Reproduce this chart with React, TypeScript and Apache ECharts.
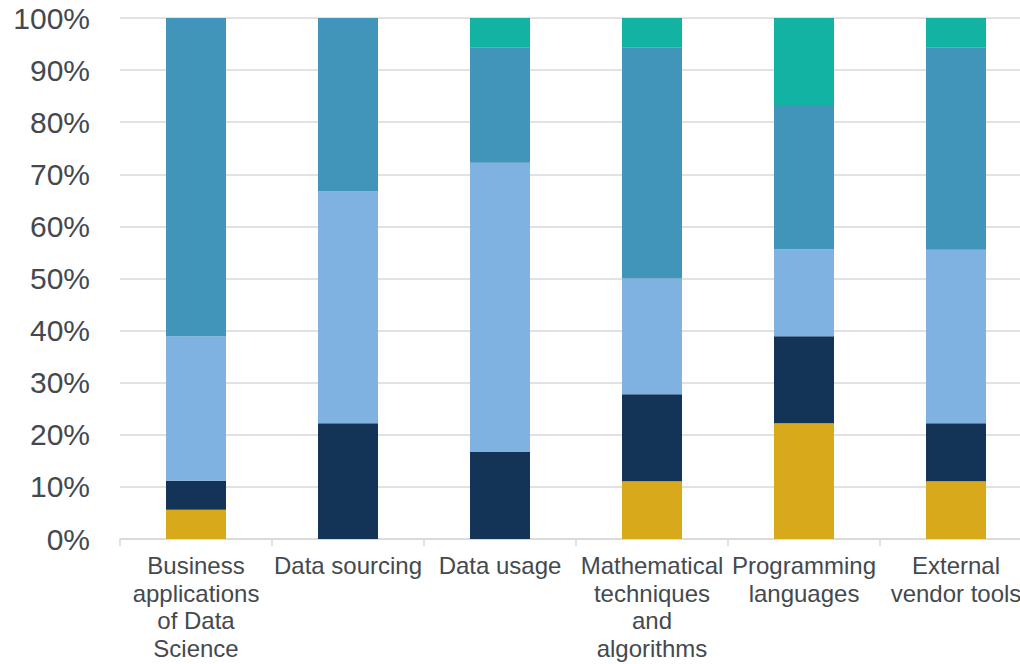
import React, { useEffect, useRef } from "react";
import * as echarts from "echarts";

// Share of responses per topic, in percent; each topic sums to 100.
const categories = [
  "Business applications of Data Science",
  "Data sourcing",
  "Data usage",
  "Mathematical techniques and algorithms",
  "Programming languages",
  "External vendor tools",
];

// How each category name wraps under the axis.
const wrappedLabels: Record<string, string> = {
  "Business applications of Data Science": "Business\napplications\nof Data\nScience",
  "Data sourcing": "Data sourcing",
  "Data usage": "Data usage",
  "Mathematical techniques and algorithms": "Mathematical\ntechniques\nand\nalgorithms",
  "Programming languages": "Programming\nlanguages",
  "External vendor tools": "External\nvendor tools",
};

const seriesNames = ["Level 1", "Level 2", "Level 3", "Level 4", "Level 5"];
const level1 = [5.6, 0, 0, 11.1, 22.2, 11.1];
const level2 = [5.6, 22.2, 16.7, 16.7, 16.7, 11.1];
const level3 = [27.7, 44.5, 55.5, 22.2, 16.7, 33.3];
const level4 = [61.1, 33.3, 22.2, 44.4, 27.7, 38.9];
const level5 = [0, 0, 5.6, 5.6, 16.7, 5.6];

const yTicks = { min: 0, max: 100, interval: 10 };

const colors = ["#D8AA1B", "#133457", "#7FB2E0", "#4195BB", "#12B3A2"];

export default function App() {
  const ref = useRef<HTMLDivElement>(null);

  useEffect(() => {
    if (!ref.current) return;
    const chart = echarts.init(ref.current, undefined, { renderer: "svg" });
    const values = [level1, level2, level3, level4, level5];
    const font = "'Liberation Sans', Arial, sans-serif";
    const textColor = "#44494e";
    chart.setOption({
      animation: false,
      grid: {
        left: 120,
        right: -12,
        top: 18,
        bottom: 125,
        containLabel: false,
        outerBoundsMode: "none",
      },
      xAxis: {
        type: "category",
        data: categories,
        axisLine: { lineStyle: { color: "#d9d9d9", width: 1.5 } },
        axisTick: { show: true, length: 7, lineStyle: { color: "#d9d9d9", width: 1.5 } },
        axisLabel: {
          interval: 0,
          margin: 13,
          color: textColor,
          fontFamily: font,
          fontSize: 24,
          lineHeight: 27.5,
          formatter: (v: string) => wrappedLabels[v] ?? v,
        },
      },
      yAxis: {
        type: "value",
        min: yTicks.min,
        max: yTicks.max,
        interval: yTicks.interval,
        axisLine: { show: false },
        axisTick: { show: false },
        splitLine: { lineStyle: { color: "#d9d9d9", width: 1.5 } },
        axisLabel: {
          margin: 30,
          color: textColor,
          fontFamily: font,
          fontSize: 30,
          formatter: "{value}%",
        },
      },
      series: seriesNames.map((name, i) => ({
        name,
        type: "bar",
        stack: "total",
        barWidth: 60,
        data: values[i],
        itemStyle: { color: colors[i] },
      })),
    });
    return () => chart.dispose();
  }, []);

  return (
    <div
      ref={ref}
      style={{ position: "absolute", left: 0, top: 0, width: 1020, height: 664, background: "#fff" }}
    />
  );
}
